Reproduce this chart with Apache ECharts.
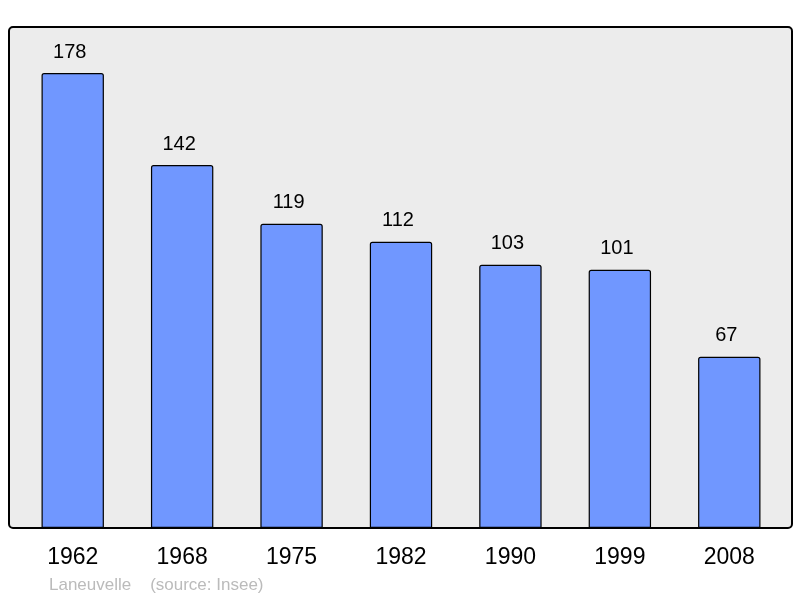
<!DOCTYPE html>
<html>
<head>
<meta charset="utf-8">
<script src="https://cdn.jsdelivr.net/npm/echarts@6/dist/echarts.min.js"></script>
<style>
  html, body { margin: 0; padding: 0; background: #fff; }
  #chart { width: 800px; height: 598px; }
</style>
</head>
<body>
<div id="chart"></div>
<script>
// population by census year
const years = ["1962", "1968", "1975", "1982", "1990", "1999", "2008"];
const population = [178, 142, 119, 112, 103, 101, 67];

const chart = echarts.init(document.getElementById("chart"));

chart.setOption({
  animation: false,
  backgroundColor: "#ffffff",
  graphic: [
    {
      type: "rect",
      z: -10,
      shape: { x: 9, y: 27, width: 783, height: 501, r: 4 },
      style: { fill: "#ececec", stroke: "#000", lineWidth: 2 }
    },
    {
      type: "text",
      left: 49,
      top: 577,
      style: {
        text: "Laneuvelle    (source: Insee)",
        fill: "#bbbbbb",
        font: "17px 'Liberation Sans', Arial, sans-serif"
      }
    }
  ],
  grid: { left: 18, right: 16, top: 27, bottom: 70 },
  xAxis: {
    type: "category",
    data: years,
    axisLine: { show: false },
    axisTick: { show: false },
    axisLabel: {
      color: "#000",
      fontSize: 23,
      fontFamily: "Liberation Sans, Arial, sans-serif",
      margin: 18
    }
  },
  yAxis: {
    type: "value",
    min: 0,
    max: 196,
    show: false,
    splitLine: { show: false }
  },
  series: [
    {
      type: "bar",
      data: population,
      barWidth: "57%",
      itemStyle: {
        color: "#7097ff",
        borderColor: "#000",
        borderWidth: 1.2,
        borderRadius: [2, 2, 0, 0]
      },
      label: {
        show: true,
        position: "top",
        distance: 11,
        offset: [-3, 0],
        color: "#000",
        fontSize: 20,
        fontFamily: "Liberation Sans, Arial, sans-serif"
      }
    }
  ]
});
</script>
</body>
</html>
